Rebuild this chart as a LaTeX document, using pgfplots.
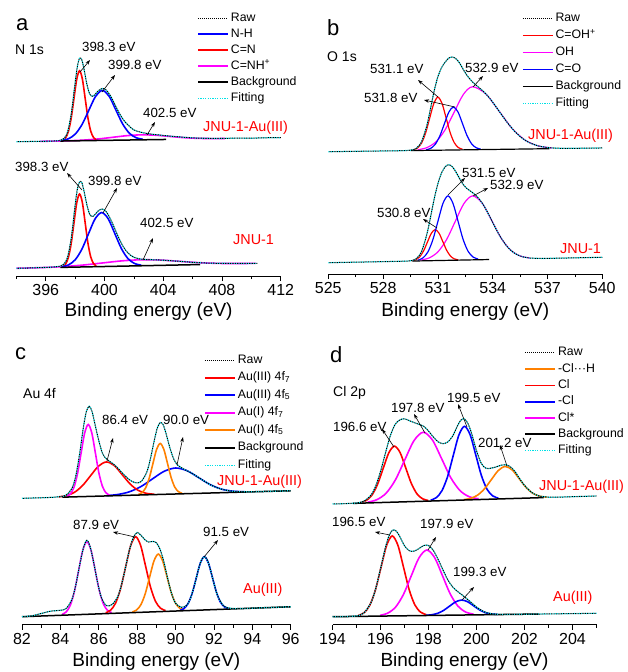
\documentclass[border=0pt]{standalone}
\usepackage{fontspec}
\setmainfont{Liberation Sans}
\usepackage{pgfplots}
\usepackage{pgfplotstable}
\pgfplotsset{compat=1.18}
\usetikzlibrary{arrows.meta}

\definecolor{cR}{RGB}{255,0,0}
\definecolor{cB}{RGB}{0,0,255}
\definecolor{cM}{RGB}{255,0,255}
\definecolor{cO}{RGB}{255,128,0}
\definecolor{cC}{RGB}{0,225,230}

% summed envelopes (raw / fitting), heights above the local background
\pgfplotstableread{
x y
394 0
395 0
396 0
396.5 0.1
397 0.7
397.25 2.6
397.5 9.7
397.75 28.5
398 58.2
398.15 74.2
398.3 82.5
398.45 81.0
398.6 71.8
398.8 56.3
399 46.3
399.2 44.3
399.4 46.8
399.6 50.0
399.85 51.9
400.1 50.5
400.4 44.5
400.7 35.8
401 27
401.3 20
401.6 15
402 10
402.5 7.5
403 6
403.5 5
404 4
405 2.5
406 1.2
407 0.5
408 0.2
409 0.3
410 0
411 0.2
412 0
}\tAU
\pgfplotstableread{
x y
394 0
395 0.1
396 0.3
396.5 0.5
397 1.3
397.25 3.4
397.5 11.0
397.75 30.8
398 62
398.15 78
398.3 85
398.45 84.5
398.6 76
398.8 62.0
399 52.2
399.2 50.3
399.4 53.0
399.6 56.1
399.85 57.5
400.1 55.0
400.4 47.5
400.7 37.5
401 27.3
401.3 18.9
401.6 13.0
402 8.6
402.5 6.6
403 6.0
403.5 5.6
404 5.1
405 3.8
406 2.4
407 1.3
408 0.8
409 0.4
410 0.1
410.4 0
}\tAL
\pgfplotstableread{
x y
525 0
526 0
527 0
528 0
529 0
529.5 0.4
529.8 2.0
530.1 8.5
530.4 25.2
530.6 42.1
530.8 59.7
531.0 73.5
531.2 82.5
531.4 88
531.6 92
531.8 93
532.0 91
532.2 86.5
532.4 80
532.6 74.2
532.9 67.7
533.2 62.8
533.5 58.0
533.8 52.0
534.1 44.7
534.4 36.9
534.8 26.7
535.2 17.9
535.6 11.1
536.0 6.4
536.5 2.9
537.0 1.2
537.5 0.4
538 0.1
539 0
540 0
}\tBU
\pgfplotstableread{
x y
525 0
526 0
527 0
528 0
529 0
529.5 0.3
529.8 2.1
530.1 9.1
530.4 26.8
530.6 43.9
530.8 61.9
531.0 76.9
531.2 87.5
531.4 93.7
531.6 95.6
531.8 93.3
532.0 87.8
532.2 81.1
532.4 75.2
532.6 71.3
532.9 67.2
533.2 62.1
533.5 54.5
533.8 44.3
534.1 33.3
534.4 23.1
534.8 12.4
535.2 5.8
535.6 2.3
536.0 0.8
536.5 0.2
537 0
538 0
539 0
540 0
}\tBL
\pgfplotstableread{
x y
82 0
83 0
83.5 0.1
84 0.6
84.3 2.0
84.6 8.4
84.8 20.7
85.0 42.6
85.2 69.3
85.35 84.7
85.5 90.2
85.65 84.8
85.8 72.2
86.0 55.5
86.2 42.4
86.4 37.0
86.6 34.0
86.8 31.1
87.0 27.3
87.3 21.0
87.6 15.5
87.9 12.4
88.2 13.3
88.5 22.6
88.7 36.7
88.9 54.8
89.05 66.4
89.2 71.9
89.35 69.7
89.5 61.1
89.7 46.7
89.9 35.3
90.1 29.0
90.4 25.0
90.7 21.9
91.0 18.4
91.4 13.2
91.8 8.4
92.2 4.8
92.6 2.5
93.0 1.1
93.5 0.4
94 0.1
95 0
96 0
}\tCU
\pgfplotstableread{
x y
82 0
82.5 0.5
83 2.5
83.5 4.5
84 5
84.3 6.5
84.6 15.5
84.8 29.5
85.0 49.1
85.2 66.5
85.38 74
85.55 67.5
85.75 50.1
85.95 30.3
86.15 15.5
86.4 8
86.7 9
87.0 17
87.2 29.5
87.4 46.0
87.6 63
87.8 75
88.0 80
88.2 77
88.4 72.5
88.6 70
88.8 70.5
89.0 69
89.2 62
89.4 49
89.6 32
89.8 17.3
90.0 7.9
90.3 3.5
90.6 5.6
90.8 13.3
91.0 26.2
91.2 41.3
91.35 50.0
91.5 53.3
91.65 50.0
91.8 41.3
92.0 26.2
92.2 13.3
92.5 3.5
92.8 1
93.1 0.3
93.5 0
94 0
95 0
96 0
}\tCL
\pgfplotstableread{
x y
194 0
194.5 0
195 0.3
195.3 1.8
195.6 7.6
195.8 16.7
196.0 31.0
196.2 48.8
196.4 65.8
196.6 77.3
196.8 82
197.0 83
197.2 81
197.4 79
197.6 77
197.8 75
198.0 70
198.2 64
198.4 59
198.6 57
198.8 58.5
199.0 64
199.2 74
199.35 80
199.5 81
199.65 76
199.8 66
200.0 49
200.2 36
200.4 31
200.6 31
200.8 32
201.0 33.5
201.2 34
201.4 32
201.6 27
201.8 19.5
202.0 12.8
202.3 5.5
202.6 1.8
203.0 0.3
203.5 0
204 0
205 0
}\tDU
\pgfplotstableread{
x y
194 0
194.5 0
195 0.5
195.3 3.2
195.6 13.4
195.8 27.5
196.0 47.3
196.2 68.0
196.35 79.9
196.5 85.8
196.65 84.9
196.8 79.5
197.0 70
197.2 65
197.4 64.5
197.6 67
197.8 70
198.0 70
198.2 65
198.4 56
198.6 45.5
198.8 35.5
199.0 28.4
199.2 23.8
199.4 20.1
199.6 16.1
199.8 11.9
200.0 7.8
200.3 3.2
200.6 1.0
201 0.2
201.5 0
202 0
203 0
204 0
205 0
}\tDL

\pgfplotsset{
  xps/.style={
    scale only axis, anchor=south west, height=270pt, ymin=0, ymax=270,
    axis x line=bottom, axis y line=none, ytick=\empty,
    x axis line style={-, line width=0.8pt},
    tick align=outside, major tick length=5pt, minor tick length=3pt,
    tick style={black, line width=0.8pt},
    xticklabel style={font=\fontsize{16}{16}\selectfont},
    /pgf/number format/assume math mode=true,
    xlabel={Binding energy (eV)},
    xlabel style={font=\fontsize{19}{19}\selectfont, anchor=center},
    clip=false,
    legend cell align=left,
    legend image code/.code={\draw[##1] (0pt,0pt) -- (30pt,0pt);},
    legend style={draw=none, fill=none, anchor=north west, inner sep=0pt,
      font=\fontsize{12.3}{12.3}\selectfont, column sep=2pt,
      nodes={inner sep=0pt, text height=9pt, text depth=3pt}},
  },
  comp/.style={line width=1.6pt, smooth, forget plot},
  thin/.style={line width=1.2pt},
  bg/.style={black, line width=1.5pt, forget plot},
  rawl/.style={black, line width=1pt, dash pattern=on 1.2pt off 1.2pt, dash phase=1.2pt, smooth, forget plot},
  fitl/.style={cC, line width=1.2pt, dash pattern=on 1.2pt off 1.2pt, smooth, forget plot},
  rawleg/.style={black, line width=0.8pt, dash pattern=on 1pt off 1pt},
  fitleg/.style={cC, line width=1.2pt, dash pattern=on 1.2pt off 1.2pt},
  offAU/.style={y filter/.expression={y+134.3+0.22*(x-394)}},
  offAL/.style={y filter/.expression={y+7.7+0.3*(x-394)}},
  offBU/.style={y filter/.expression={y+122.3+0.25*(x-525)}},
  offBL/.style={y filter/.expression={y+11.3+0.36*(x-525)}},
  offCU/.style={y filter/.expression={y+126.2+0.54*(x-82)}},
  offCL/.style={y filter/.expression={y+7.8+0.71*(x-82)}},
  offDU/.style={y filter/.expression={y+120.5+0.73*(x-194)}},
  offDL/.style={y filter/.expression={y+7.8+0.31*(x-194)}},
}

\tikzset{
  lab/.style={anchor=west, inner sep=0pt, font=\fontsize{13.3}{13.3}\selectfont},
  smp/.style={anchor=west, inner sep=0pt, text=cR, font=\fontsize{14.4}{14.4}\selectfont},
  pl/.style={anchor=west, inner sep=0pt, font=\fontsize{22}{22}\selectfont},
  core/.style={anchor=west, inner sep=0pt, font=\fontsize{14}{14}\selectfont},
  ar/.style={-{Stealth[length=5pt, width=3.5pt]}, line width=0.6pt},
}

\begin{document}
\begin{tikzpicture}
\path[use as bounding box] (0pt,0pt) rectangle (627pt,-672pt);

% ---------------- a: N 1s
\begin{axis}[xps, at={(16.4pt,-276pt)}, width=264.4pt,
  xmin=394, xmax=412, xtick={396,400,...,412}, minor xtick={394,398,...,410},
  xlabel style={at={(axis description cs:0.5,-0.133)}},
  legend style={at={(0.683,0.978)}, row sep=4pt}]
\addlegendimage{rawleg}
\addlegendimage{color=cB, line width=1.7pt}
\addlegendimage{color=cR, line width=1.7pt}
\addlegendimage{color=cM, line width=1.7pt}
\addlegendimage{color=black, line width=1.7pt}
\addlegendimage{fitleg}
\legend{Raw, N-H, C=N, C=NH\textsuperscript{+}, Background, Fitting}
% upper: JNU-1-Au(III)
\addplot[comp, cM, offAU] coordinates {(395.6,0)(396.8,0.06)(397.75,0.22)(398.7,0.68)(399.65,1.62)(400.6,3.03)(401.55,4.41)(402.5,5)(403.45,4.41)(404.4,3.03)(405.35,1.62)(406.3,0.68)(407.25,0.22)(408.2,0.06)};
\addplot[comp, cR, offAU] coordinates {(397.16,0.78)(397.35,3.07)(397.54,9.47)(397.73,22.73)(397.92,42.46)(398.11,61.78)(398.30,70)(398.49,61.78)(398.68,42.46)(398.87,22.73)(399.06,9.47)(399.25,3.07)(399.44,0.78)};
\addplot[comp, cB, offAU] coordinates {(397.09,0.56)(397.55,2.20)(398.01,6.77)(398.47,16.24)(398.93,30.33)(399.39,44.13)(399.85,50)(400.31,44.13)(400.77,30.33)(401.23,16.24)(401.69,6.77)(402.15,2.20)(402.61,0.56)};
\addplot[bg, offAU] coordinates {(397.0,0)(404.2,0)};
\addplot[fitl, offAU] table {\tAU};
\addplot[rawl, offAU] table {\tAU};
% lower: JNU-1
\addplot[comp, cM, offAL] coordinates {(394,0)(394.7,0.07)(396.0,0.26)(397.3,0.81)(398.6,1.95)(399.9,3.64)(401.2,5.30)(402.5,6)(403.8,5.30)(405.1,3.64)(406.4,1.95)(407.7,0.81)(409.0,0.26)(410.3,0.07)};
\addplot[comp, cR, offAL] coordinates {(397.16,0.81)(397.35,3.20)(397.54,9.88)(397.73,23.70)(397.92,44.27)(398.11,64.42)(398.30,73)(398.49,64.42)(398.68,44.27)(398.87,23.70)(399.06,9.88)(399.25,3.20)(399.44,0.81)};
\addplot[comp, cB, offAL] coordinates {(397.1,0.60)(397.55,2.37)(398.0,7.31)(398.45,17.53)(398.9,32.75)(399.35,47.66)(399.8,54)(400.25,47.66)(400.7,32.75)(401.15,17.53)(401.6,7.31)(402.05,2.37)(402.5,0.60)};
\addplot[bg, offAL] coordinates {(397,0)(406.5,0)};
\addplot[fitl, offAL] table {\tAL};
\addplot[rawl, offAL] table {\tAL};
\end{axis}

% ---------------- b: O 1s
\begin{axis}[xps, at={(328.3pt,-274pt)}, width=274pt,
  xmin=525, xmax=540, xtick={525,528,...,540}, minor xtick={526.5,529.5,...,538.5},
  xlabel style={at={(axis description cs:0.5,-0.14)}},
  legend style={at={(0.707,0.969)}, row sep=5pt}]
\addlegendimage{rawleg}
\addlegendimage{color=cR, line width=1.3pt}
\addlegendimage{color=cM, line width=1.3pt}
\addlegendimage{color=cB, line width=1.3pt}
\addlegendimage{color=black, line width=1.3pt}
\addlegendimage{fitleg}
\legend{Raw, C=OH\textsuperscript{+}, OH, C=O, Background, Fitting}
\addplot[comp, thin, cM, offBU] coordinates {(529.9,0.70)(530.4,2.77)(530.9,8.52)(531.4,20.46)(531.9,38.21)(532.4,55.60)(532.9,63)(533.625,55.60)(534.35,38.21)(535.075,20.46)(535.80,8.52)(536.525,2.77)(537.25,0.70)};
\addplot[comp, thin, cR, offBU] coordinates {(529.65,0.59)(529.875,2.33)(530.10,7.17)(530.325,17.21)(530.55,32.14)(530.775,46.77)(531.0,53)(531.225,46.77)(531.45,32.14)(531.675,17.21)(531.90,7.17)(532.125,2.33)(532.35,0.59)};
\addplot[comp, thin, cB, offBU] coordinates {(530.35,0.48)(530.60,1.89)(530.85,5.82)(531.10,13.96)(531.35,26.08)(531.60,37.95)(531.85,43)(532.10,37.95)(532.35,26.08)(532.60,13.96)(532.85,5.82)(533.10,1.89)(533.35,0.48)};
\addplot[bg, thin, offBU] coordinates {(529.5,0)(537.1,0)};
\addplot[fitl, offBU] table {\tBU};
\addplot[rawl, offBU] table {\tBU};
\addplot[comp, thin, cM, offBL] coordinates {(530.05,0.71)(530.525,2.81)(531.0,8.66)(531.475,20.78)(531.95,38.82)(532.425,56.48)(532.9,64)(533.425,56.48)(533.95,38.82)(534.475,20.78)(535.0,8.66)(535.525,2.81)(536.05,0.71)};
\addplot[comp, thin, cR, offBL] coordinates {(529.59,0.34)(529.80,1.36)(530.01,4.19)(530.22,10.07)(530.43,18.80)(530.64,27.36)(530.85,31)(531.06,27.36)(531.27,18.80)(531.48,10.07)(531.69,4.19)(531.90,1.36)(532.11,0.34)};
\addplot[comp, thin, cB, offBL] coordinates {(529.90,0.72)(530.175,2.83)(530.45,8.73)(530.725,20.94)(531.00,39.12)(531.275,56.92)(531.55,64.5)(531.825,56.92)(532.10,39.12)(532.375,20.94)(532.65,8.73)(532.925,2.83)(533.20,0.72)};
\addplot[bg, thin, offBL] coordinates {(529.6,0)(533.8,0)};
\addplot[fitl, offBL] table {\tBL};
\addplot[rawl, offBL] table {\tBL};
\end{axis}

% ---------------- c: Au 4f
\begin{axis}[xps, at={(22pt,-624.5pt)}, width=268.7pt,
  xmin=82, xmax=96, xtick={82,84,...,96}, minor xtick={83,85,...,95},
  xlabel style={at={(axis description cs:0.5,-0.139)}},
  legend style={at={(0.677,1.002)}, row sep=5.5pt}]
\addlegendimage{rawleg}
\addlegendimage{color=cR, line width=1.7pt}
\addlegendimage{color=cB, line width=1.7pt}
\addlegendimage{color=cM, line width=1.7pt}
\addlegendimage{color=cO, line width=1.7pt}
\addlegendimage{color=black, line width=1.7pt}
\addlegendimage{fitleg}
\legend{Raw, Au(III) 4f\textsubscript{7}, Au(III) 4f\textsubscript{5}, Au(I) 4f\textsubscript{7}, Au(I) 4f\textsubscript{5}, Background, Fitting}
\addplot[comp, cB, offCU] coordinates {(86.4,0.29)(87.0,1.14)(87.6,3.52)(88.2,8.44)(88.8,15.77)(89.4,22.95)(90.0,26)(90.6,22.95)(91.2,15.77)(91.8,8.44)(92.4,3.52)(93.0,1.14)(93.6,0.29)};
\addplot[comp, cR, offCU] coordinates {(83.91,0.38)(84.325,1.49)(84.74,4.60)(85.155,11.04)(85.57,20.62)(85.985,30.01)(86.4,34)(86.815,30.01)(87.23,20.62)(87.645,11.04)(88.06,4.60)(88.475,1.49)(88.89,0.38)};
\addplot[comp, cM, offCU] coordinates {(84.34,0.80)(84.525,3.16)(84.71,9.74)(84.895,23.38)(85.08,43.67)(85.265,63.54)(85.45,72)(85.635,63.54)(85.82,43.67)(86.005,23.38)(86.19,9.74)(86.375,3.16)(86.56,0.80)};
\addplot[comp, cO, offCU] coordinates {(88.06,0.57)(88.25,2.24)(88.44,6.90)(88.63,16.56)(88.82,30.93)(89.01,45.01)(89.2,51)(89.39,45.01)(89.58,30.93)(89.77,16.56)(89.96,6.90)(90.15,2.24)(90.34,0.57)};
\addplot[bg, offCU] coordinates {(84.1,0)(96,0)};
\addplot[fitl, offCU] table {\tCU};
\addplot[rawl, offCU] table {\tCU};
\addplot[comp, cM, offCL] coordinates {(84.09,0.81)(84.305,3.19)(84.52,9.82)(84.735,23.57)(84.95,44.03)(85.165,64.07)(85.38,72.6)(85.595,64.07)(85.81,44.03)(86.025,23.57)(86.24,9.82)(86.455,3.19)(86.67,0.81)};
\addplot[comp, cR, offCL] coordinates {(86.36,0.84)(86.62,3.33)(86.88,10.26)(87.14,24.61)(87.40,45.97)(87.66,66.89)(87.92,75.8)(88.18,66.89)(88.44,45.97)(88.70,24.61)(88.96,10.26)(89.22,3.33)(89.48,0.84)};
\addplot[comp, cO, offCL] coordinates {(87.75,0.64)(87.975,2.53)(88.20,7.79)(88.425,18.70)(88.65,34.93)(88.875,50.83)(89.10,57.6)(89.325,50.83)(89.55,34.93)(89.775,18.70)(90.00,7.79)(90.225,2.53)(90.45,0.64)};
\addplot[comp, cB, offCL] coordinates {(90.24,0.59)(90.45,2.34)(90.66,7.21)(90.87,17.31)(91.08,32.33)(91.29,47.04)(91.5,53.3)(91.71,47.04)(91.92,32.33)(92.13,17.31)(92.34,7.21)(92.55,2.34)(92.76,0.59)};
\addplot[bg, offCL] coordinates {(82,0)(96,0)};
\addplot[fitl, offCL] table {\tCL};
\addplot[rawl, offCL] table {\tCL};
\end{axis}

% ---------------- d: Cl 2p
\begin{axis}[xps, at={(332.5pt,-624.5pt)}, width=264pt,
  xmin=194, xmax=205, xtick={194,196,...,204}, minor xtick={195,197,...,205},
  xlabel style={at={(axis description cs:0.5,-0.139)}},
  legend style={at={(0.725,1.029)}, row sep=4.3pt}]
\addlegendimage{rawleg}
\addlegendimage{color=cO, line width=1.8pt}
\addlegendimage{color=cR, line width=1.8pt}
\addlegendimage{color=cB, line width=1.8pt}
\addlegendimage{color=cM, line width=1.8pt}
\addlegendimage{color=black, line width=2pt}
\addlegendimage{fitleg}
\legend{Raw, -Cl···H, Cl, -Cl, Cl*, Background, Fitting}
\addplot[comp, cR, offDU] coordinates {(195.17,0.62)(195.405,2.46)(195.64,7.58)(195.875,18.18)(196.11,33.96)(196.345,49.42)(196.58,56)(196.815,49.42)(197.05,33.96)(197.285,18.18)(197.52,7.58)(197.755,2.46)(197.99,0.62)};
\addplot[comp, cM, offDU] coordinates {(195.47,0.77)(195.855,3.03)(196.24,9.34)(196.625,22.40)(197.01,41.85)(197.395,60.89)(197.78,69)(198.165,60.89)(198.55,41.85)(198.935,22.40)(199.32,9.34)(199.705,3.03)(200.09,0.77)};
\addplot[comp, cB, offDU] coordinates {(198.09,0.82)(198.325,3.24)(198.56,9.97)(198.795,23.93)(199.03,44.70)(199.265,65.04)(199.5,73.7)(199.735,65.04)(199.97,44.70)(200.205,23.93)(200.44,9.97)(200.675,3.24)(200.91,0.82)};
\addplot[comp, cO, offDU] coordinates {(199.46,0.36)(199.75,1.42)(200.04,4.37)(200.33,10.49)(200.62,19.59)(200.91,28.51)(201.2,32.3)(201.49,28.51)(201.78,19.59)(202.07,10.49)(202.36,4.37)(202.65,1.42)(202.94,0.36)};
\addplot[bg, offDU] coordinates {(194.85,0)(202.8,0)};
\addplot[fitl, offDU] table {\tDU};
\addplot[rawl, offDU] table {\tDU};
\addplot[comp, cR, offDL] coordinates {(195.08,0.89)(195.315,3.51)(195.55,10.82)(195.785,25.98)(196.02,48.52)(196.255,70.60)(196.49,80)(196.725,70.60)(196.96,48.52)(197.195,25.98)(197.43,10.82)(197.665,3.51)(197.90,0.89)};
\addplot[comp, cM, offDL] coordinates {(195.98,0.73)(196.305,2.88)(196.63,8.86)(196.955,21.27)(197.28,39.73)(197.605,57.80)(197.93,65.5)(198.255,57.80)(198.58,39.73)(198.905,21.27)(199.23,8.86)(199.555,2.88)(199.88,0.73)};
\addplot[comp, cB, offDL] coordinates {(197.88,0.17)(198.13,0.66)(198.38,2.03)(198.63,4.87)(198.88,9.10)(199.13,13.24)(199.38,15)(199.63,13.24)(199.88,9.10)(200.13,4.87)(200.38,2.03)(200.63,0.66)(200.88,0.17)};
\addplot[bg, offDL] coordinates {(194,0)(202.6,0)};
\addplot[fitl, offDL] table {\tDL};
\addplot[rawl, offDL] table {\tDL};
\end{axis}

% ---------------- labels and peak annotations
\node[pl] at (16pt,-25pt) {a};
\node[core] at (15pt,-50pt) {N 1s};
\node[lab] at (82pt,-47pt) {398.3 eV};
\draw[ar] (80pt,-72pt) -- (90pt,-60pt);
\node[lab] at (108pt,-65pt) {399.8 eV};
\draw[ar] (102pt,-92pt) -- (115pt,-75pt);
\node[lab] at (143pt,-113pt) {402.5 eV};
\draw[ar] (147pt,-135pt) -- (155pt,-122pt);
\node[smp] at (203pt,-128pt) {JNU-1-Au(III)};
\node[lab] at (15pt,-167pt) {398.3 eV};
\draw[ar] (82pt,-190pt) -- (67pt,-173pt);
\node[lab] at (88pt,-181pt) {399.8 eV};
\draw[ar] (103pt,-213pt) -- (117pt,-188pt);
\node[lab] at (140pt,-223pt) {402.5 eV};
\draw[ar] (143pt,-260pt) -- (153pt,-238pt);
\node[smp] at (233pt,-240pt) {JNU-1};

\node[pl] at (327pt,-28pt) {b};
\node[core] at (327pt,-57pt) {O 1s};
\node[lab] at (370pt,-69pt) {531.1 eV};
\draw[ar] (438pt,-97pt) -- (418pt,-80pt);
\node[lab] at (364pt,-98pt) {531.8 eV};
\draw[ar] (455pt,-107pt) -- (424pt,-100pt);
\node[lab] at (465pt,-68pt) {532.9 eV};
\draw[ar] (473pt,-87pt) -- (483pt,-76pt);
\node[smp] at (528pt,-136pt) {JNU-1-Au(III)};
\node[lab] at (462pt,-172.7pt) {531.5 eV};
\draw[ar] (448pt,-195pt) -- (465pt,-178pt);
\node[lab] at (490pt,-185pt) {532.9 eV};
\draw[ar] (473pt,-196pt) -- (488pt,-188pt);
\node[lab] at (377pt,-212.7pt) {530.8 eV};
\draw[ar] (437pt,-228pt) -- (423pt,-219pt);
\node[smp] at (560pt,-249pt) {JNU-1};

\node[pl] at (15pt,-354pt) {c};
\node[core] at (23pt,-393pt) {Au 4f};
\node[lab] at (102pt,-420pt) {86.4 eV};
\draw[ar] (107pt,-461pt) -- (113pt,-438pt);
\node[lab] at (163pt,-420pt) {90.0 eV};
\draw[ar] (177pt,-465pt) -- (183pt,-437pt);
\node[smp] at (217pt,-481.7pt) {JNU-1-Au(III)};
\node[lab] at (73pt,-525pt) {87.9 eV};
\draw[ar] (135pt,-537pt) -- (113pt,-532pt);
\node[lab] at (203pt,-531.7pt) {91.5 eV};
\draw[ar] (204pt,-557pt) -- (218pt,-540pt);
\node[smp] at (243pt,-590pt) {Au(III)};

\node[pl] at (330pt,-355pt) {d};
\node[core] at (333pt,-392.7pt) {Cl 2p};
\node[lab] at (333pt,-426.7pt) {196.6 eV};
\draw[ar] (394pt,-447pt) -- (382pt,-429pt);
\node[lab] at (391pt,-408pt) {197.8 eV};
\draw[ar] (425pt,-433pt) -- (414pt,-414pt);
\node[lab] at (447pt,-398pt) {199.5 eV};
\draw[ar] (467pt,-427pt) -- (458pt,-404pt);
\node[lab] at (478pt,-443pt) {201.2 eV};
\draw[ar] (507pt,-466pt) -- (500pt,-445pt);
\node[smp] at (539pt,-486.7pt) {JNU-1-Au(III)};
\node[lab] at (332pt,-521.7pt) {196.5 eV};
\draw[ar] (390pt,-535pt) -- (375pt,-532pt);
\node[lab] at (420pt,-524pt) {197.9 eV};
\draw[ar] (428pt,-550pt) -- (436pt,-537pt);
\node[lab] at (453pt,-571.7pt) {199.3 eV};
\draw[ar] (462pt,-600pt) -- (474pt,-587pt);
\node[smp] at (553pt,-598pt) {Au(III)};
\end{tikzpicture}
\end{document}
